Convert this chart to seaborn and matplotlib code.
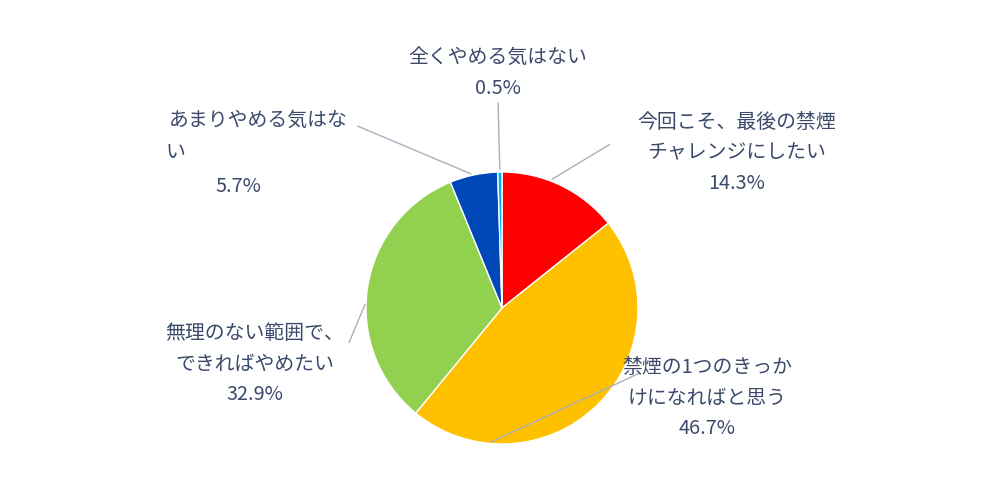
import numpy as np
import matplotlib
matplotlib.use("Agg")
import matplotlib.pyplot as plt
import seaborn as sns

sns.set_theme(style="white")
plt.rcParams["font.family"] = "Noto Sans CJK JP"

categories = ["今回こそ、最後の禁煙\nチャレンジにしたい", "禁煙の1つのきっか\nけになればと思う",
              "無理のない範囲で、\nできればやめたい", "あまりやめる気はな\nい", "全くやめる気はない"]
values = [14.3, 46.7, 32.9, 5.7, 0.5]
colors = ["#FF0000", "#FFC000", "#92D050", "#0047BA", "#00B0F0"]

fig = plt.figure(figsize=(10, 4.92), dpi=100)
ax = fig.add_axes([0.502 - 0.136, 0.374 - 0.2764, 0.272, 0.5528])
wedges, _ = ax.pie(values, colors=colors, startangle=90, counterclock=False,
                   wedgeprops=dict(edgecolor="white", linewidth=1))
ax.set_xlim(-1, 1)
ax.set_ylim(-1, 1)
ax.set_aspect("equal")

label_pos = [(737, 153), (707, 398), (255, 364), (165, 153), (498, 73)]
line_end = [(612, 143), (642, 372), (348, 345), (355, 125), (498, 100)]
anchor_frac = [0.6, 0.2, 0.55, 0.5, 0.5]
txtc = "#3B4A6B"
fs = 14.3
for i, w in enumerate(wedges):
    a = np.deg2rad(w.theta1 + (w.theta2 - w.theta1) * anchor_frac[i])
    x, y = np.cos(a), np.sin(a)
    ex, ey = line_end[i]
    ax.annotate("", xy=(x, y), xycoords="data", xytext=(ex, 492 - ey),
                textcoords="figure pixels",
                arrowprops=dict(arrowstyle="-", color="#A9B0BC", lw=1))
    lx, ly = label_pos[i]
    if i == 3:
        fig.text(258 / 1000, 1 - 120 / 492, categories[i].split("\n")[0], ha="center", va="center",
                 fontsize=fs, color=txtc)
        fig.text(166 / 1000, 1 - 153 / 492, "い", ha="left", va="center", fontsize=fs, color=txtc)
        fig.text(238 / 1000, 1 - 186 / 492, f"{values[i]}%", ha="center", va="center", fontsize=fs, color=txtc)
    else:
        fig.text(lx / 1000, 1 - ly / 492, categories[i] + "\n" + f"{values[i]}%", ha="center",
                 va="center", fontsize=fs, color=txtc, linespacing=1.6)

fig.savefig("out.png", dpi=100, facecolor="white")
